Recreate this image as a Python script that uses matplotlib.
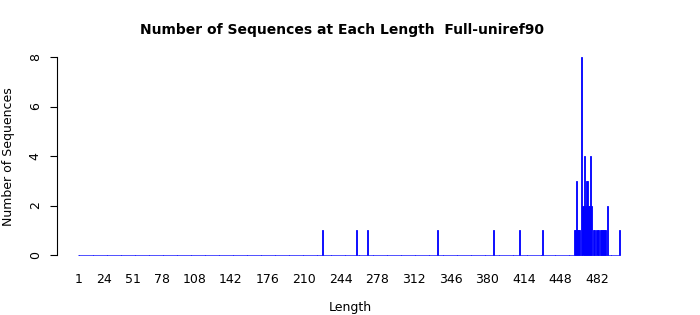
import numpy as np
import matplotlib
matplotlib.use('Agg')
import matplotlib.pyplot as plt

# all lengths from 1 to the longest sequence
lengths = np.arange(1, 504)

# lengths that have sequences, and how many
seq_lengths = [227, 259, 269, 334, 386, 410, 431,
               461, 462, 463, 464, 465, 466, 468, 469, 470, 471, 472, 473,
               474, 475, 476, 477, 479, 480, 482, 483, 485, 486, 487, 488,
               489, 490, 492, 503]
seq_counts = [1, 1, 1, 1, 1, 1, 1,
              1, 1, 3, 1, 1, 1, 8, 2, 4, 2, 3, 3,
              2, 2, 4, 2, 1, 1, 1, 1, 1, 1, 1, 1,
              1, 1, 2, 1]

tick_labels = [1, 24, 51, 78, 108, 142, 176, 210, 244, 278, 312, 346, 380, 414, 448, 482]
y_ticks = [0, 2, 4, 6, 8]

counts = np.zeros(len(lengths))
for l, c in zip(seq_lengths, seq_counts):
    counts[l - 1] = c

fig = plt.figure(figsize=(7, 3.15), dpi=100)
ax = fig.add_axes([57/700, 1 - 255/315, 583/700, 198/315])

bars = ax.bar(lengths, counts, width=1, color='#0000ff', edgecolor='#0000ff', linewidth=0.6)
for b in bars:
    b.set_clip_on(False)  # zero bars draw the blue baseline

px = 1.077
ax.set_xlim(1 - 22/px, 1 + 561/px)
ax.set_ylim(0, 8)

for s in ['top', 'right', 'bottom']:
    ax.spines[s].set_visible(False)
ax.spines['left'].set_linewidth(0.8)

ax.set_xticks(tick_labels)
ax.set_xticklabels([str(t) for t in tick_labels], fontsize=9)
ax.tick_params(axis='x', length=0, pad=13)
ax.set_yticks(y_ticks)
ax.set_yticklabels([str(t) for t in y_ticks], fontsize=9, rotation=90, va='center')
ax.tick_params(axis='y', length=5, width=0.8, pad=6)

fig.text(9/700, 1 - 157/315, 'Number of Sequences', rotation=90, ha='center', va='center', fontsize=9)
fig.text(350/700, 1 - 308/315, 'Length', ha='center', va='center', fontsize=9)
fig.text(342/700, 1 - 30/315, 'Number of Sequences at Each Length  Full-uniref90',
         ha='center', va='center', fontsize=10, fontweight='bold')

fig.savefig('out.png', dpi=100)
